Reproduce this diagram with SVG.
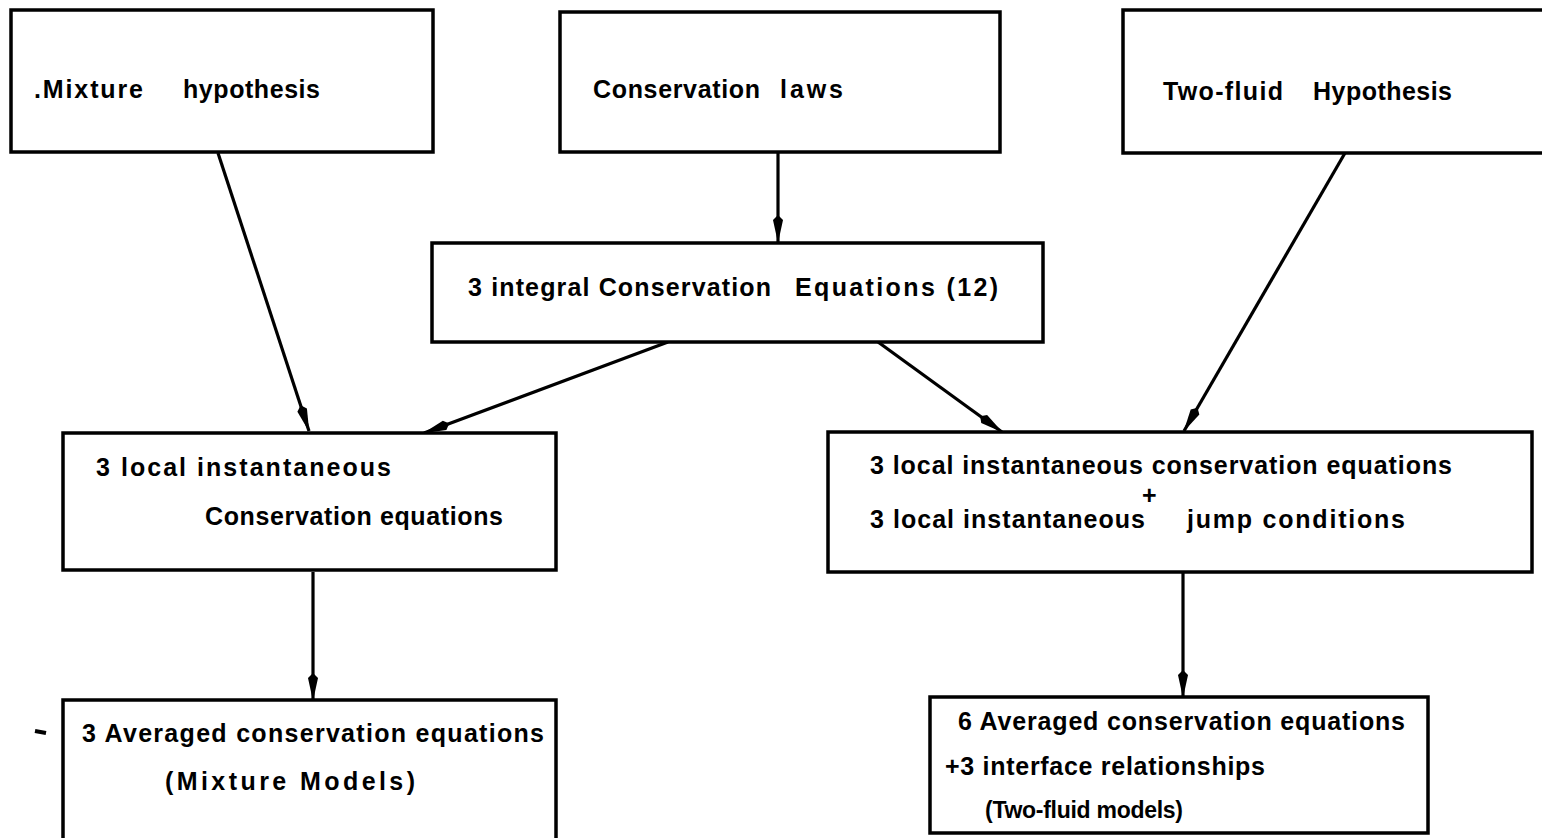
<svg xmlns="http://www.w3.org/2000/svg" width="1542" height="838" viewBox="0 0 1542 838">
<style>
.box{fill:#fff;stroke:#000;stroke-width:3.5}
.t{font-family:"Liberation Sans",Arial,sans-serif;font-weight:bold;font-size:25px;fill:#000}
.s{font-size:23px}
.c{fill:none;stroke:#000;stroke-width:3.2}
</style>
<defs>
<marker id="ah" viewBox="0 0 28 12" refX="27" refY="6" markerWidth="28" markerHeight="12" markerUnits="userSpaceOnUse" orient="auto">
<path d="M0,6 L5,1 L28,6 L5,11 Z" fill="#000"/>
</marker>
</defs>
<rect width="1542" height="838" fill="#fff"/>
<g id="connectors">
<line class="c" x1="218" y1="153" x2="309" y2="431" marker-end="url(#ah)"/>
<line class="c" x1="778" y1="152" x2="778" y2="242" marker-end="url(#ah)"/>
<line class="c" x1="1345" y1="153" x2="1184" y2="431" marker-end="url(#ah)"/>
<line class="c" x1="668" y1="342" x2="424" y2="433" marker-end="url(#ah)"/>
<line class="c" x1="878" y1="342" x2="1002" y2="432" marker-end="url(#ah)"/>
<line class="c" x1="313" y1="572" x2="313" y2="700" marker-end="url(#ah)"/>
<line class="c" x1="1183" y1="572" x2="1183" y2="697" marker-end="url(#ah)"/>
</g>
<g id="mixture-hypothesis">
<rect class="box" x="11" y="10" width="422" height="142"/>
<text class="t" x="34" y="98" textLength="109">.Mixture</text>
<text class="t" x="183" y="98" textLength="137">hypothesis</text>
</g>
<g id="conservation-laws">
<rect class="box" x="560" y="12" width="440" height="140"/>
<text class="t" x="593" y="98" textLength="167">Conservation</text>
<text class="t" x="780" y="98" textLength="63">laws</text>
</g>
<g id="two-fluid-hypothesis">
<rect class="box" x="1123" y="10" width="425" height="143"/>
<text class="t" x="1163" y="100" textLength="120">Two-fluid</text>
<text class="t" x="1313" y="100" textLength="139">Hypothesis</text>
</g>
<g id="integral-equations">
<rect class="box" x="432" y="243" width="611" height="99"/>
<text class="t" x="468" y="296" textLength="303">3 integral Conservation</text>
<text class="t" x="795" y="296" textLength="203">Equations (12)</text>
</g>
<g id="local-left">
<rect class="box" x="63" y="433" width="493" height="137"/>
<text class="t" x="96" y="476" textLength="295">3 local  instantaneous</text>
<text class="t" x="205" y="525" textLength="298">Conservation  equations</text>
</g>
<g id="local-right">
<rect class="box" x="828" y="432" width="704" height="140"/>
<text class="t" x="870" y="474" textLength="582">3 local instantaneous  conservation  equations</text>
<text class="t" x="1142" y="504">+</text>
<text class="t" x="870" y="528" textLength="275">3 local instantaneous</text>
<text class="t" x="1187" y="528" textLength="218">jump  conditions</text>
</g>
<g id="averaged-left">
<rect class="box" x="63" y="700" width="493" height="140"/>
<text class="t" x="82" y="742" textLength="462">3 Averaged  conservation equations</text>
<text class="t" x="165" y="790" textLength="250">(Mixture  Models)</text>
<line x1="35" y1="731" x2="46" y2="733" stroke="#000" stroke-width="4"/>
</g>
<g id="averaged-right">
<rect class="box" x="930" y="697" width="498" height="136"/>
<text class="t" x="958" y="730" textLength="447">6 Averaged  conservation equations</text>
<text class="t" x="945" y="775" textLength="320">+3 interface  relationships</text>
<text class="t s" x="985" y="818" textLength="198">(Two-fluid models)</text>
</g>
</svg>
